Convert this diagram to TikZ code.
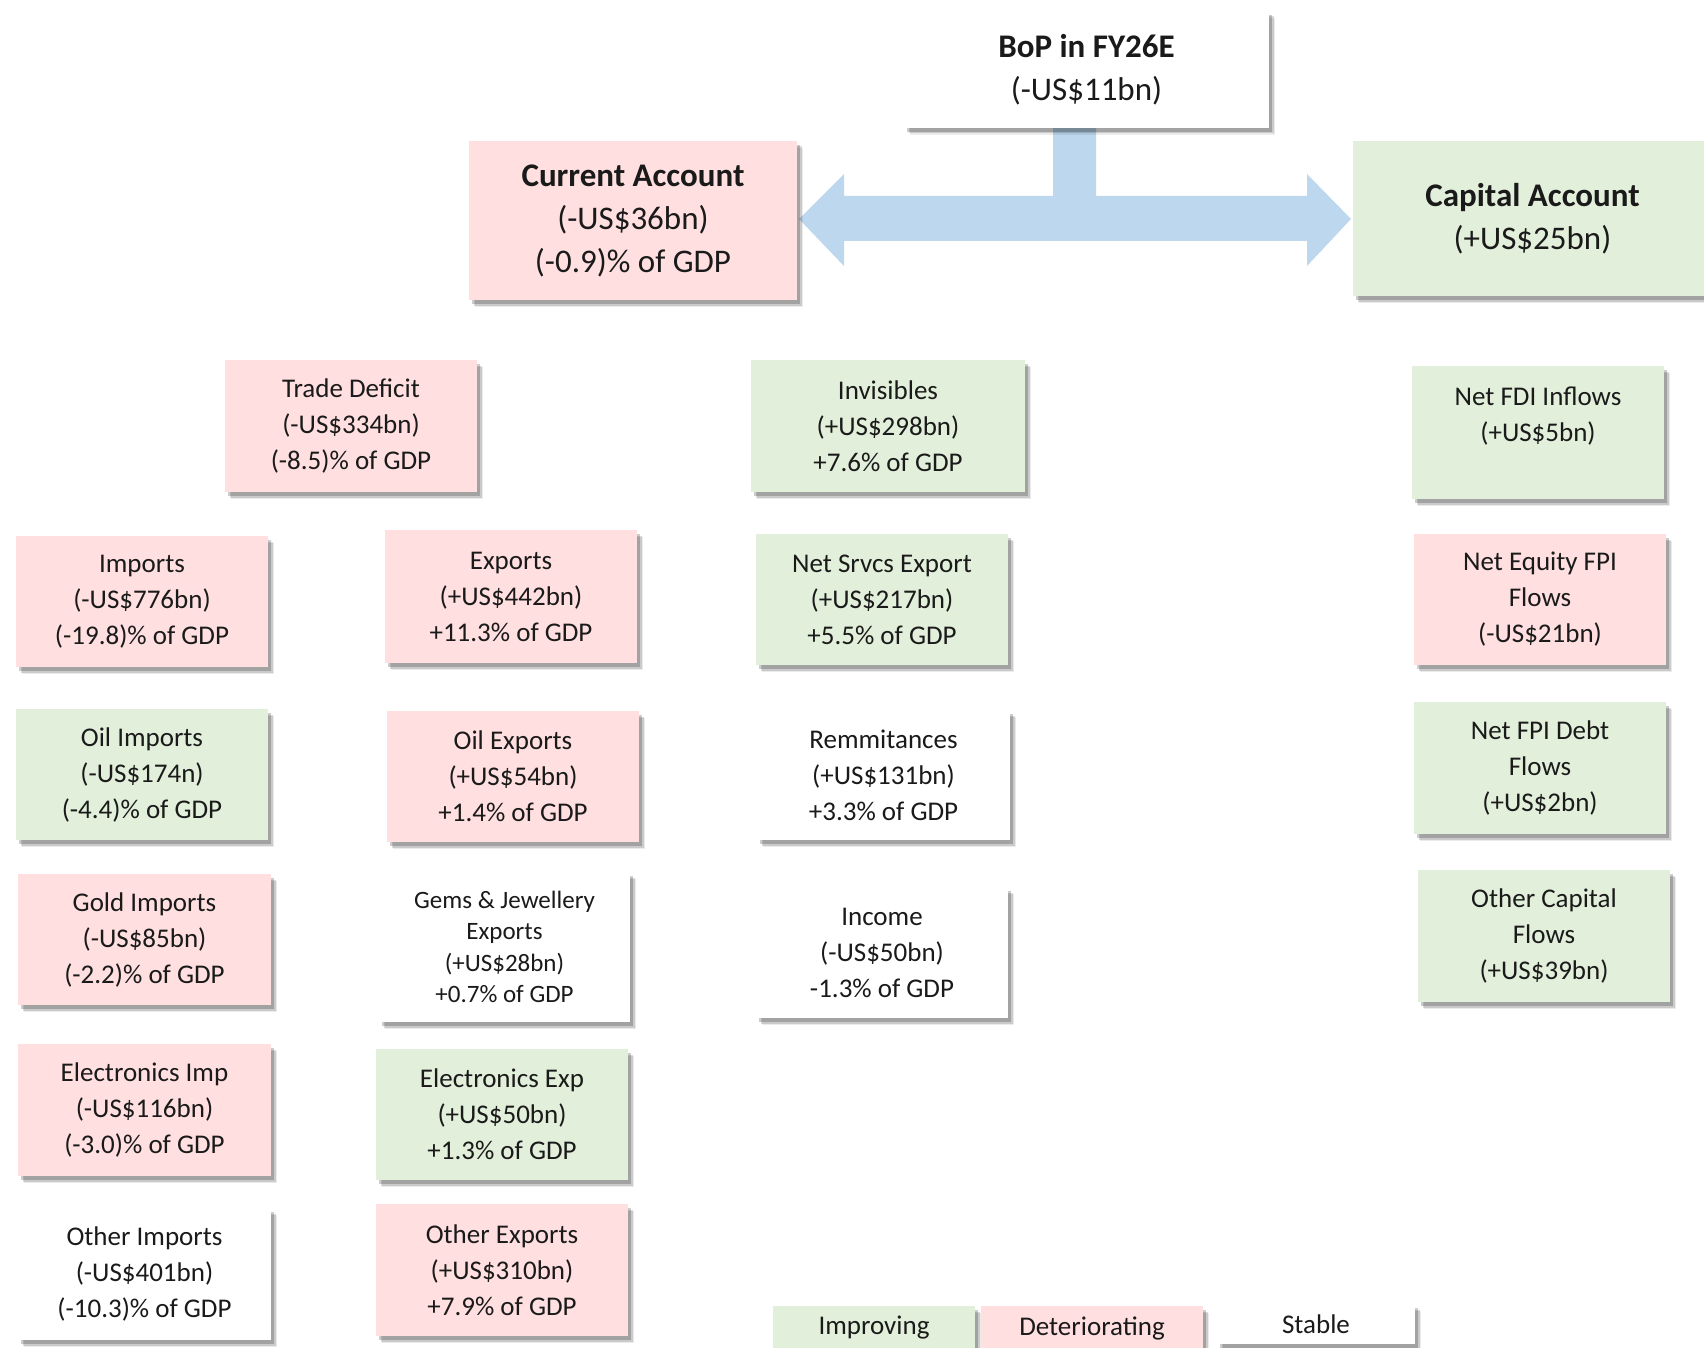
\documentclass[tikz,border=0pt]{standalone}
\usepackage{fontspec}
\setmainfont{Carlito}
\usetikzlibrary{shadows}
\definecolor{pinkf}{HTML}{FFDFDF}
\definecolor{greenf}{HTML}{E2EFDA}
\definecolor{arrowb}{HTML}{BDD7EE}
\definecolor{txt}{HTML}{1A1A1A}
\begin{document}
\begin{tikzpicture}[x=1pt,y=-1pt,
  box/.style={rectangle, inner sep=0pt, align=center, text=txt,
    font=\fontsize{27}{36}\selectfont,
    drop shadow={shadow xshift=6pt, shadow yshift=-7pt, fill=black, opacity=0.08},
    drop shadow={shadow xshift=4.5pt, shadow yshift=-5.5pt, fill=black, opacity=0.14},
    drop shadow={shadow xshift=3pt, shadow yshift=-4pt, fill=black, opacity=0.2}},
  pinkbox/.style={box, fill=pinkf},
  greenbox/.style={box, fill=greenf},
  whitebox/.style={box, fill=white},
  bigtext/.style={font=\fontsize{33}{43}\selectfont},
  sz/.style 2 args={minimum width=#1pt, minimum height=#2pt},
]
\useasboundingbox (0,0) rectangle (1704,1348);

% block arrow
\fill[arrowb] (799,219) -- (844,174) -- (844,196) -- (1053,196) -- (1053,128)
  -- (1096,128) -- (1096,196) -- (1307,196) -- (1307,174) -- (1351,219)
  -- (1307,266) -- (1307,241) -- (844,241) -- (844,266) -- cycle;

% top level
\node[whitebox, bigtext, sz={365}{117}] (bop) at (1086.5,69.5)
  {\textbf{BoP in FY26E}\\(-US\$11bn)};
\node[pinkbox, bigtext, sz={328}{159}] (ca) at (633,220.5)
  {\textbf{Current Account}\\(-US\$36bn)\\(-0.9)\% of GDP};
\node[greenbox, bigtext, sz={359}{155}] (kap) at (1532.5,218.5)
  {\textbf{Capital Account}\\(+US\$25bn)};

% second level
\node[pinkbox, sz={252}{132}] (td) at (351,426)
  {Trade Deficit\\(-US\$334bn)\\(-8.5)\% of GDP};
\node[greenbox, sz={274}{132}] (inv) at (888,426)
  {Invisibles\\(+US\$298bn)\\+7.6\% of GDP};
\node[greenbox, sz={252}{133}] (fdi) at (1538,432.5)
  {Net FDI Inflows\\(+US\$5bn)\\\mbox{}};

% row 1
\node[pinkbox, sz={252}{131}] (imp) at (142,601.5)
  {Imports\\(-US\$776bn)\\(-19.8)\% of GDP};
\node[pinkbox, sz={252}{133}] (exp) at (511,596.5)
  {Exports\\(+US\$442bn)\\+11.3\% of GDP};
\node[greenbox, sz={252}{131}] (srv) at (882,599.5)
  {Net Srvcs Export\\(+US\$217bn)\\+5.5\% of GDP};
\node[pinkbox, sz={252}{131}] (efpi) at (1540,599.5)
  {Net Equity FPI\\Flows\\(-US\$21bn)};

% row 2
\node[greenbox, sz={252}{131}] (oimp) at (142,774.5)
  {Oil Imports\\(-US\$174n)\\(-4.4)\% of GDP};
\node[pinkbox, sz={252}{131}] (oexp) at (513,776.5)
  {Oil Exports\\(+US\$54bn)\\+1.4\% of GDP};
\node[whitebox, sz={253}{130}] (rem) at (883.5,775)
  {Remmitances\\(+US\$131bn)\\+3.3\% of GDP};
\node[greenbox, sz={252}{132}] (dfpi) at (1540,768)
  {Net FPI Debt\\Flows\\(+US\$2bn)};

% row 3
\node[pinkbox, sz={253}{131}] (gimp) at (144.5,939.5)
  {Gold Imports\\(-US\$85bn)\\(-2.2)\% of GDP};
\node[whitebox, sz={251}{150}, font=\fontsize{25}{31.5}\selectfont] (gems) at (504.5,947)
  {Gems \& Jewellery\\Exports\\(+US\$28bn)\\+0.7\% of GDP};
\node[whitebox, sz={252}{131}] (inc) at (882,952.5)
  {Income\\(-US\$50bn)\\-1.3\% of GDP};
\node[greenbox, sz={252}{132}] (ocap) at (1544,936)
  {Other Capital\\Flows\\(+US\$39bn)};

% row 4
\node[pinkbox, sz={253}{132}] (eimp) at (144.5,1110)
  {Electronics Imp\\(-US\$116bn)\\(-3.0)\% of GDP};
\node[greenbox, sz={252}{131}] (eexp) at (502,1114.5)
  {Electronics Exp\\(+US\$50bn)\\+1.3\% of GDP};

% row 5
\node[whitebox, sz={253}{132}] (othimp) at (144.5,1274)
  {Other Imports\\(-US\$401bn)\\(-10.3)\% of GDP};
\node[pinkbox, sz={252}{132}] (othexp) at (502,1270)
  {Other Exports\\(+US\$310bn)\\+7.9\% of GDP};

% legend
\node[greenbox, sz={202}{44}] (limp) at (874,1328) {Improving};
\node[pinkbox, sz={222}{44}] (ldet) at (1092,1328) {Deteriorating};
\node[whitebox, sz={198}{40}] (lsta) at (1316,1324) {Stable};
\end{tikzpicture}
\end{document}
